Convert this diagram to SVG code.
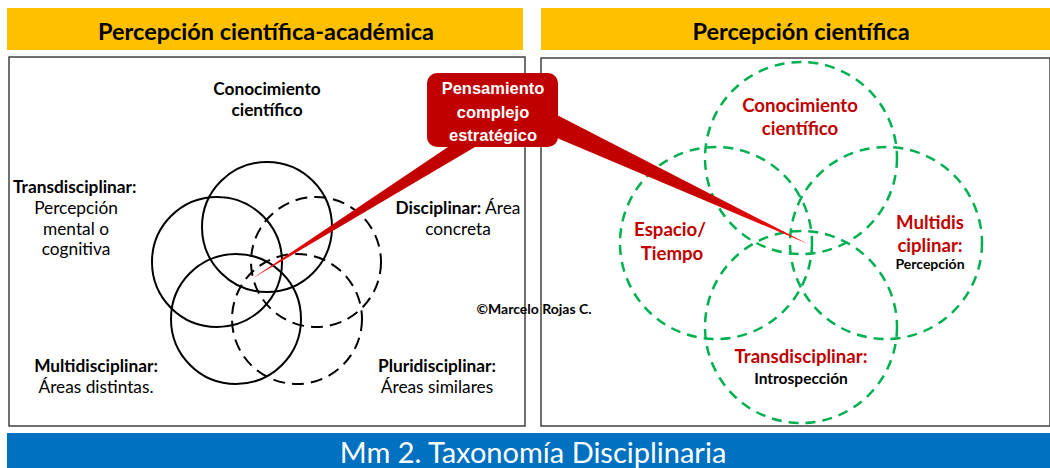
<svg xmlns="http://www.w3.org/2000/svg" width="1050" height="468" viewBox="0 0 1050 468">
<style>
.hdr{fill:#FFC000}
.hdrt{font-family:Lato,"Liberation Sans",sans-serif;font-weight:bold;font-size:23.5px;fill:#000;text-anchor:middle}
.panel{fill:#fff;stroke:#404040;stroke-width:1.5}
.solid{fill:none;stroke:#000;stroke-width:2}
.dash{fill:none;stroke:#000;stroke-width:2;stroke-dasharray:12 7}
.gdash{fill:none;stroke:#00B050;stroke-width:2.5;stroke-dasharray:10 7}
.lb{font-family:Lato,"Liberation Sans",sans-serif;font-weight:bold;font-size:17.3px;fill:#000}
.lr{font-family:Lato,"Liberation Sans",sans-serif;font-size:17.3px;fill:#000}
.rr{font-family:Lato,"Liberation Sans",sans-serif;font-weight:bold;font-size:18.6px;fill:#C00000;text-anchor:middle}
.rb{font-family:Lato,"Liberation Sans",sans-serif;font-weight:bold;fill:#000;text-anchor:middle}
.mid{text-anchor:middle}
.ct{font-family:"Liberation Sans",Arial,sans-serif;font-weight:bold;font-size:16.5px;fill:#fff;text-anchor:middle}
.foot{font-family:Lato,"Liberation Sans",sans-serif;font-size:29px;fill:#fff;text-anchor:middle}
</style>
<defs>
<linearGradient id="gL" gradientUnits="userSpaceOnUse" x1="460" y1="147" x2="253" y2="278">
<stop offset="0" stop-color="#C00000"/><stop offset="0.6" stop-color="#C80000"/><stop offset="1" stop-color="#FF1010"/>
</linearGradient>
<linearGradient id="gR" gradientUnits="userSpaceOnUse" x1="558" y1="127" x2="808" y2="244">
<stop offset="0" stop-color="#C00000"/><stop offset="0.6" stop-color="#C80000"/><stop offset="1" stop-color="#FF1010"/>
</linearGradient>
</defs>
<rect width="1050" height="468" fill="#fff"/>

<g id="header-left">
<rect class="hdr" x="7" y="8" width="516" height="42"/>
<text class="hdrt" x="266" y="40">Percepción científica-académica</text>
</g>
<g id="header-right">
<rect class="hdr" x="541" y="8" width="509" height="42"/>
<text class="hdrt" x="801" y="40">Percepción científica</text>
</g>

<g id="panel-left"><rect class="panel" x="9" y="57" width="516" height="369"/></g>
<g id="panel-right"><rect class="panel" x="541" y="58" width="509" height="368"/></g>

<g id="left-circles">
<circle class="solid" cx="267" cy="227" r="65"/>
<circle class="solid" cx="217" cy="262" r="65"/>
<circle class="dash" cx="316" cy="262" r="65"/>
<circle class="solid" cx="236" cy="319" r="65"/>
<circle class="dash" cx="297" cy="319" r="65"/>
</g>

<g id="left-labels">
<g id="lbl-conocimiento-left"><text class="lb mid" x="267" y="95">Conocimiento</text><text class="lb mid" x="267" y="116">científico</text></g>
<g id="lbl-trans-left"><text class="lb" x="13" y="193">Transdisciplinar:</text>
<text class="lr mid" x="76" y="214">Percepción</text><text class="lr mid" x="76" y="235">mental o</text><text class="lr mid" x="76" y="255">cognitiva</text></g>
<g id="lbl-disc-left"><text class="lr mid" x="458" y="214"><tspan font-weight="bold">Disciplinar:</tspan> Área</text><text class="lr mid" x="458" y="235">concreta</text></g>
<g id="lbl-multi-left"><text class="lb mid" x="96" y="372">Multidisciplinar:</text><text class="lr mid" x="96" y="393">Áreas distintas.</text></g>
<g id="lbl-pluri-left"><text class="lb mid" x="437" y="372">Pluridisciplinar:</text><text class="lr mid" x="437" y="393">Áreas similares</text></g>
</g>

<g id="right-circles">
<circle class="gdash" cx="801" cy="158" r="96"/>
<circle class="gdash" cx="716" cy="243" r="96"/>
<circle class="gdash" cx="886" cy="243" r="96"/>
<circle class="gdash" cx="801" cy="327" r="96"/>
</g>

<g id="right-labels">
<g id="lbl-conocimiento-right"><text class="rr" x="800" y="112">Conocimiento</text><text class="rr" x="800" y="135">científico</text></g>
<g id="lbl-espacio"><text class="rr" x="670" y="236">Espacio/</text><text class="rr" x="672" y="260">Tiempo</text></g>
<g id="lbl-multi-right"><text class="rr" x="930" y="229">Multidis</text><text class="rr" x="930" y="252">ciplinar:</text><text class="rb" font-size="14" x="930" y="269">Percepción</text></g>
<g id="lbl-trans-right"><text class="rr" x="801" y="363">Transdisciplinar:</text><text class="rb" font-size="15.5" x="801" y="384">Introspección</text></g>
</g>

<g id="connectors">
<polygon points="448,147 475,147 253,278" fill="url(#gL)"/>
<polygon points="557,115 557,138 808,244" fill="url(#gR)"/>
</g>

<g id="callout">
<rect x="427" y="73" width="131" height="74" rx="10" fill="#C00000"/>
<text class="ct" x="493" y="94">Pensamiento</text>
<text class="ct" x="493" y="118">complejo</text>
<text class="ct" x="493" y="141">estratégico</text>
</g>

<g id="copyright"><text class="rb" font-size="14" x="534" y="314">©Marcelo Rojas C.</text></g>

<g id="footer">
<rect x="7" y="433" width="1043" height="35" fill="#0070C0"/>
<text class="foot" x="533" y="463">Mm 2. Taxonomía Disciplinaria</text>
</g>
</svg>
